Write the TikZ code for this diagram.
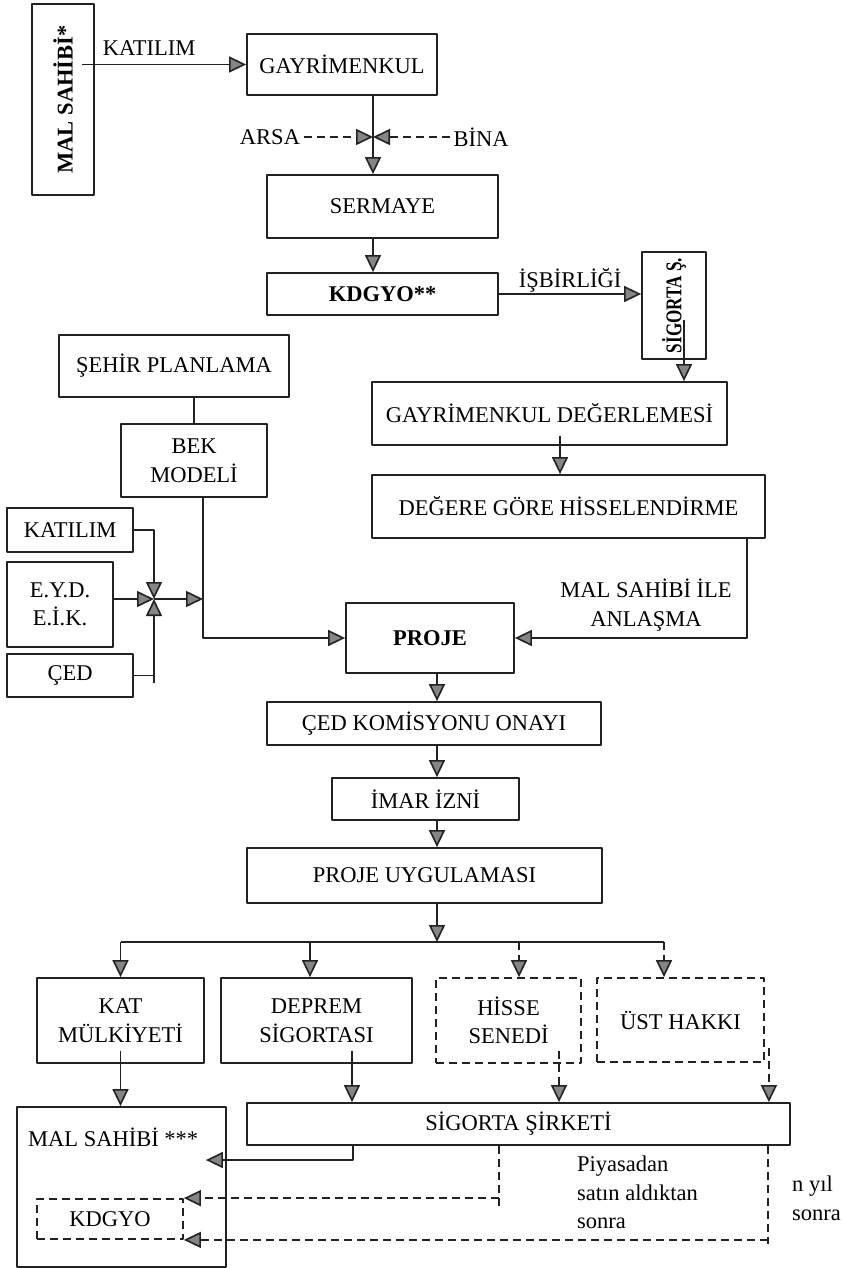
\documentclass[tikz,border=0pt]{standalone}
\usepackage{fontspec}
\setmainfont{Liberation Serif}
\usetikzlibrary{arrows.meta,calc}
\definecolor{FigureInk}{HTML}{222222}
\definecolor{FigureHead}{HTML}{858585}
\newcommand{\figfont}{\fontsize{22.5}{28.5}\selectfont}

\begin{document}
\begin{tikzpicture}[x=1pt,y=-1pt,line join=round,font=\figfont,
  box/.style={draw=FigureInk,line width=1.8pt,inner sep=2pt,align=center},
  dbox/.style={box,dash pattern=on 8pt off 5pt},
  ln/.style={draw=FigureInk,line width=1.6pt},
  arr/.style={ln,-{Triangle[length=17pt,width=16pt,fill=FigureHead]}},
  dsh/.style={dash pattern=on 8pt off 5pt}]
  \useasboundingbox (0,0) rectangle (841,1268);
  % upper part
  \node[box,minimum width=62pt,minimum height=191pt] (owner) at (63,99.5) {\rotatebox{90}{\bfseries MAL SAHİBİ*}};
  \node[box,minimum width=190pt,minimum height=61pt] (estate) at (342,64.5) {GAYRİMENKUL};
  \node[box,minimum width=231pt,minimum height=63pt] (capital) at (382.5,206.5) {SERMAYE};
  \node[box,minimum width=231pt,minimum height=42pt,font=\figfont\bfseries] (fund) at (382.5,294) {KDGYO**};
  \node[box,minimum width=64pt,minimum height=107pt] (insurer) at (674,305.5) {\rotatebox{90}{\scalebox{0.76}[1]{\bfseries SİGORTA Ş.}}};
  \node[box,minimum width=355pt,minimum height=63pt] (appraisal) at (549.5,413.5) {GAYRİMENKUL DEĞERLEMESİ};
  \node[box,minimum width=393pt,minimum height=63pt] (shares) at (568.5,506.5) {DEĞERE GÖRE HİSSELENDİRME};
  \node[anchor=base] (joinlabel) at (149,56) {KATILIM};
  \node (land) at (270,137) {ARSA};\node (bldg) at (481,137) {BİNA};
  \coordinate (mix) at (373,137);
  \draw[arr] ($(estate.west -| owner.center)+(19,0)$) -- (estate.west);
  \draw[arr] (estate.south -| mix) -- (capital.north -| mix);
  \draw[arr,dsh] (land.east) -- (mix);\draw[arr,dsh] (bldg.west) -- (mix);
  \draw[arr] (capital.south -| mix) -- (fund.north -| mix);
  \draw[arr] (fund.east) -- node[above,inner sep=1pt] (coop) {İŞBİRLİĞİ} (fund.east -| insurer.west);
  \coordinate (d1) at ($(insurer.center)+(10,14)$);\coordinate (d2) at ($(appraisal.south)+(10.5,-10)$);
  \draw[arr] (d1) -- (appraisal.north -| d1);
  \draw[arr] (d2) -- (shares.north -| d2);
  % planning side
  \node[box,minimum width=230pt,minimum height=62pt] (city) at (174,366) {ŞEHİR PLANLAMA};
  \node[box,minimum width=146pt,minimum height=73pt] (bek) at (194,460.5) {BEK\\MODELİ};
  \node[box,minimum width=126pt,minimum height=44pt] (part) at (70,530) {KATILIM};
  \node[box,minimum width=106pt,minimum height=85pt] (eyd) at (60,604.5) {E.Y.D.\\E.İ.K.};
  \node[box,minimum width=126pt,minimum height=43pt] (eia) at (70,675.5) {ÇED};
  \node[box,minimum width=168pt,minimum height=70pt,font=\figfont\bfseries] (project) at (430,638) {PROJE};
  \node[align=center] (deal) at (646,605) {MAL SAHİBİ İLE\\ANLAŞMA};
  \coordinate (hub) at (154,599);\coordinate (hubend) at (154,683);
  \coordinate (d3) at ($(shares.south)+(178.5,0)$);\coordinate (d4) at ($(bek.south)+(9,0)$);
  \draw[ln] (bek.north) -- (bek.north |- city.south);
  \draw[arr] (d4) |- (project.west);
  \draw[arr] (d3) |- (project.east);
  \draw[arr] (part.east) -| (hub);
  \draw[arr] (eyd.east |- hub) -- (hub);
  \draw[ln] (eia.east) -- (eia.east -| hub);\draw[arr] (hubend) -- (hub);
  \draw[arr] (hub) -- (hub -| d4);
  % approval chain
  \node[box,minimum width=334pt,minimum height=43pt] (board) at (434,723.5) {ÇED KOMİSYONU ONAYI};
  \node[box,minimum width=187pt,minimum height=42pt] (permit) at (425.5,799) {İMAR İZNİ};
  \node[box,minimum width=355pt,minimum height=55pt] (build) at (424.5,875.5) {PROJE UYGULAMASI};
  \coordinate (spine) at (437,942);
  \draw[arr] (project.south -| spine) -- (board.north -| spine);
  \draw[arr] (board.south -| spine) -- (permit.north -| spine);
  \draw[arr] (permit.south -| spine) -- (build.north -| spine);
  \draw[arr] (build.south -| spine) -- (spine);
  % outcomes
  \node[box,minimum width=167pt,minimum height=85pt] (condo) at (120.5,1020.5) {KAT\\MÜLKİYETİ};
  \node[box,minimum width=191pt,minimum height=85pt] (quake) at (316.5,1020.5) {DEPREM\\SİGORTASI};
  \node[dbox,minimum width=145pt,minimum height=85pt] (stock) at (508.5,1020.5) {HİSSE\\SENEDİ};
  \node[dbox,minimum width=167pt,minimum height=84pt] (lease) at (680.5,1020) {ÜST HAKKI};
  \coordinate (s2) at ($(quake.north)+(-6.5,0)$);\coordinate (s3) at ($(stock.north)+(10.5,0)$);\coordinate (s4) at ($(lease.north)+(-16.5,0)$);
  \draw[ln] (condo.north |- spine) -- (s4 |- spine);
  \draw[arr] (condo.north |- spine) -- (condo.north);\draw[arr] (s2 |- spine) -- (s2);
  \draw[arr,dsh] (s3 |- spine) -- (s3);\draw[arr,dsh] (s4 |- spine) -- (s4);
  \node[box,minimum width=209pt,minimum height=160pt] (owner2) at (121.5,1187) {};
  \node[anchor=west,inner sep=0pt] (ownerlabel) at (28,1137) {MAL SAHİBİ ***};
  \node[dbox,minimum width=146pt,minimum height=40pt] (fund2) at (110,1219) {KDGYO};
  \node[box,minimum width=543pt,minimum height=42pt] (company) at (518.5,1124) {SİGORTA ŞİRKETİ};
  \coordinate (e1) at ($(condo.south)+(0,-13)$);\coordinate (e2) at ($(quake.south)+(35.5,-13)$);
  \coordinate (e3) at ($(stock.south)+(50.5,-13)$);\coordinate (e4) at ($(lease.east)+(4,28)$);
  \draw[arr] (e1) -- (owner2.north -| e1);\draw[arr] (e2) -- (company.north -| e2);
  \draw[arr,dsh] (e3) -- (company.north -| e3);\draw[arr,dsh] (e4) -- (company.north -| e4);
  \coordinate (f1) at ($(company.south)+(-165.5,0)$);\coordinate (f2) at ($(company.south)+(-19.5,0)$);\coordinate (f3) at ($(company.south)+(249.5,0)$);
  \draw[arr] (f1) |- ($(owner2.east)+(-21,-27)$);
  \draw[ln,dsh] (f2) -- ($(f2)+(0,62)$);\draw[arr,dsh] (fund2.north east -| f2) -- (fund2.north east);
  \draw[ln,dsh] (f3) -- ($(f3)+(0,98)$);\draw[arr,dsh] (fund2.south east -| f3) -- (fund2.south east);
  \node[align=left,anchor=north west,inner sep=0pt] (market) at (577,1156) {Piyasadan\\satın aldıktan\\sonra};
  \node[align=left,anchor=north west,inner sep=0pt] (later) at (792,1176) {n yıl\\sonra};
\end{tikzpicture}
\end{document}
